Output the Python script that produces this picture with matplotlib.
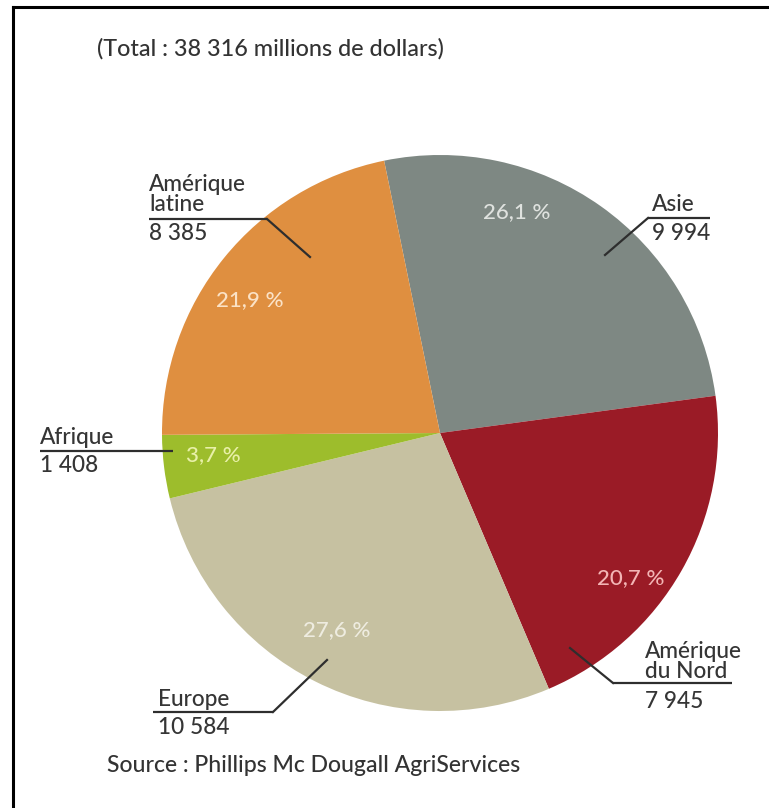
import matplotlib
matplotlib.use("Agg")
import matplotlib.pyplot as plt
from matplotlib.lines import Line2D

# ---- data ----
regions = ["Asie", "Amérique du Nord", "Europe", "Afrique", "Amérique latine"]
values = [9994, 7945, 10584, 1408, 8385]
label_names = ["Asie", "Amérique\ndu Nord", "Europe", "Afrique", "Amérique\nlatine"]
value_labels = ["9 994", "7 945", "10 584", "1 408", "8 385"]
title_text = "(Total : 38 316 millions de dollars)"
source_text = "Source : Phillips Mc Dougall AgriServices"

colors = ["#7e8883", "#9a1b26", "#c6c1a1", "#9dbd2c", "#df8f40"]
pct_colors = ["#dfe2df", "#f3b5b5", "#eeece0", "#e8f0a8", "#fbe2c6"]

W, H = 769, 808
plt.rcParams['font.family'] = ['Lato', 'DejaVu Sans']
fig = plt.figure(figsize=(W / 100, H / 100), dpi=100)
ax = fig.add_axes([0, 0, 1, 1])

def Y(py):
    return H - py

cx, cy, r = 440, Y(433), 278
ax.pie(values, colors=colors, startangle=101.6, counterclock=False,
       center=(cx, cy), radius=r, frame=True,
       wedgeprops=dict(linewidth=0))
ax.set_xlim(0, W)
ax.set_ylim(0, H)
ax.set_aspect('equal')
ax.axis('off')

total = sum(values)
pct_pos = [(517, 212), (631, 578), (337, 630), (213, 455), (250, 300)]
for v, (px, py), c in zip(values, pct_pos, pct_colors):
    s = f"{v / total * 100:.1f}".replace(".", ",") + " %"
    ax.text(px, Y(py), s, color=c, fontsize=16, fontweight='medium',
            ha='center', va='center')

txt_color = "#353535"
fs = 16.3
layout = {
    "Asie": dict(tx=652, name_y=205, ly=218, lx=(648, 710), elbow=(648, 218), inner=(605, 255), vy=233),
    "Amérique du Nord": dict(tx=645, name_y=672, ly=683, lx=(613, 732), elbow=(613, 683), inner=(570, 648), vy=702),
    "Europe": dict(tx=158, name_y=700, ly=712, lx=(153, 273), elbow=(273, 712), inner=(327, 660), vy=727),
    "Afrique": dict(tx=40, name_y=438, ly=451, lx=(40, 173), elbow=None, inner=None, vy=465),
    "Amérique latine": dict(tx=149, name_y=205, ly=219, lx=(149, 267), elbow=(267, 219), inner=(310, 257), vy=233),
}
for reg, name, vl in zip(regions, label_names, value_labels):
    L = layout[reg]
    ax.text(L['tx'], Y(L['name_y'] + 6), name, color=txt_color, fontsize=fs,
            fontweight='medium', ha='left', va='baseline', linespacing=0.95)
    ax.text(L['tx'], Y(L['vy']), vl, color=txt_color, fontsize=fs,
            fontweight='medium', ha='left', va='center')
    ax.plot(L['lx'], [Y(L['ly'])] * 2, color="#2e2e2e", lw=1.6, solid_capstyle='butt')
    if L['inner'] is not None:
        ax.plot([L['elbow'][0], L['inner'][0]], [Y(L['elbow'][1]), Y(L['inner'][1])],
                color="#2e2e2e", lw=1.6)

ax.text(97, Y(49), title_text, color="#333333", fontsize=16.8, fontweight='medium',
        ha='left', va='center')
ax.text(107, Y(766), source_text, color="#333333", fontsize=16.6, fontweight='medium',
        ha='left', va='center')

# frame lines (top and left)
fig.add_artist(Line2D([12.5 / W, 1], [1 - 6.5 / H] * 2, color='black', lw=2.2, transform=fig.transFigure))
fig.add_artist(Line2D([12.5 / W] * 2, [0, 1 - 6.5 / H], color='black', lw=2.2, transform=fig.transFigure))

fig.savefig("out.png", dpi=100, facecolor='white')
